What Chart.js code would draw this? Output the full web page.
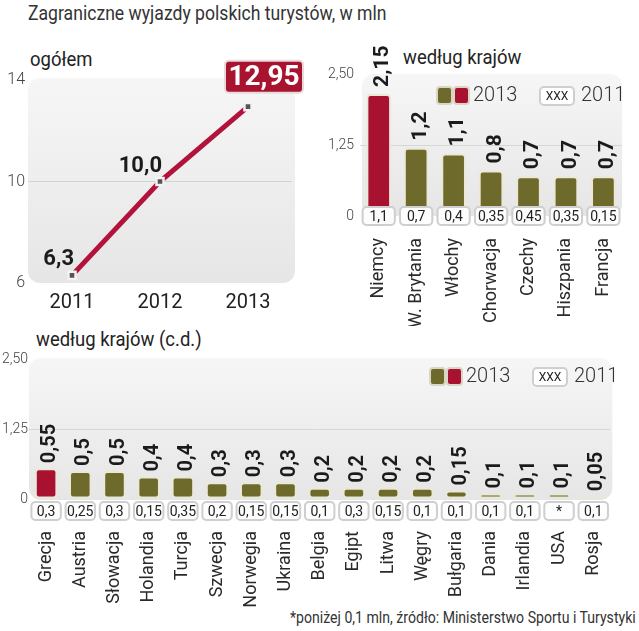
<!DOCTYPE html>
<html lang="pl">
<head>
  <meta charset="UTF-8">
  <title>Zagraniczne wyjazdy polskich turystów</title>
  <script src="https://cdn.jsdelivr.net/npm/chart.js@4"></script>
  <style>
    html, body { margin: 0; padding: 0; background: #fff; }
    body { width: 639px; height: 631px; position: relative; overflow: hidden;
           font-family: Roboto, sans-serif; color: #333; }
    canvas { position: absolute; left: 0; top: 0; }
    .txt { position: absolute; line-height: 1; white-space: nowrap; transform: scaleX(0.88); transform-origin: left top; }
    .title { left: 28px; top: 3px; font-size: 20px; color: #333; }
    .panel { font-size: 21px; color: #222; }
    .note { left: 290px; top: 610px; font-size: 16px; color: #333; }
  </style>
</head>
<body>
  <div class="txt title">Zagraniczne wyjazdy polskich turystów, w mln</div>
  <div class="txt panel" style="left:30px; top:49px;">ogółem</div>
  <div class="txt panel" style="left:403px; top:47px;">według krajów</div>
  <div class="txt panel" style="left:36px; top:329px;">według krajów (c.d.)</div>
  <div class="txt note">*poniżej 0,1 mln, źródło: Ministerstwo Sportu i Turystyki</div>

  <canvas id="lineChart" width="639" height="631"></canvas>
  <canvas id="topChart" width="639" height="631"></canvas>
  <canvas id="restChart" width="639" height="631"></canvas>

  <script>
    // ogółem
    const years = ['2011', '2012', '2013'];
    const totals = [6.3, 10.0, 12.95];
    const totalTicks = [6, 10, 14];

    // według krajów
    const topCountries = ['Niemcy', 'W. Brytania', 'Włochy', 'Chorwacja', 'Czechy', 'Hiszpania', 'Francja'];
    const top2013 = [2.15, 1.2, 1.1, 0.8, 0.7, 0.7, 0.7];
    const top2011 = [1.1, 0.7, 0.4, 0.35, 0.45, 0.35, 0.15];

    // według krajów (c.d.)
    const restCountries = ['Grecja', 'Austria', 'Słowacja', 'Holandia', 'Turcja', 'Szwecja', 'Norwegia', 'Ukraina',
      'Belgia', 'Egipt', 'Litwa', 'Węgry', 'Bułgaria', 'Dania', 'Irlandia', 'USA', 'Rosja'];
    const rest2013 = [0.55, 0.5, 0.5, 0.4, 0.4, 0.3, 0.3, 0.3, 0.2, 0.2, 0.2, 0.2, 0.15, 0.1, 0.1, 0.1, 0.05];
    const rest2011 = [0.3, 0.25, 0.3, 0.15, 0.35, 0.2, 0.15, 0.15, 0.1, 0.3, 0.15, 0.1, 0.1, 0.1, 0.1, null, 0.1];

    const countryTicks = [0, 1.25, 2.5];

    const FONT = 'Roboto';
    const OLIVE = '#6d6a2b';
    const RED = '#a8112f';
    const LINE_RED = '#b3123b';

    const fmt = v => v == null ? '*' : String(v).replace('.', ',');
    const fmtOne = v => Number.isInteger(v) ? v.toFixed(1).replace('.', ',') : fmt(v);
    const fmtTick = v => v === 0 ? '0' : v.toFixed(2).replace('.', ',');

    function roundRect(ctx, x, y, w, h, r) {
      ctx.beginPath();
      ctx.moveTo(x + r, y);
      ctx.arcTo(x + w, y, x + w, y + h, r);
      ctx.arcTo(x + w, y + h, x, y + h, r);
      ctx.arcTo(x, y + h, x, y, r);
      ctx.arcTo(x, y, x + w, y, r);
      ctx.closePath();
    }

    // szare tło paneli
    function panelBg(ext) {
      return {
        id: 'panelBg',
        beforeDraw(chart) {
          const a = chart.chartArea, ctx = chart.ctx;
          const x1 = a.left + ext.l, x2 = Math.min(a.right + ext.r, 636);
          const y1 = a.top + ext.t, y2 = a.bottom + ext.b;
          const g = ctx.createLinearGradient(0, y1, 0, y2);
          g.addColorStop(0, '#f6f6f6');
          g.addColorStop(1, '#e6e6e6');
          ctx.save();
          roundRect(ctx, x1, y1, x2 - x1, y2 - y1, 12);
          ctx.fillStyle = g;
          ctx.fill();
          ctx.restore();
        }
      };
    }

    // etykiety wartości, ramki 2011 i legenda
    function barExtras(values2011, o) {
      return {
        id: 'barExtras',
        afterDatasetsDraw(chart) {
          const ctx = chart.ctx;
          const meta = chart.getDatasetMeta(0);
          const data = chart.data.datasets[0].data;
          const y0 = chart.scales.y.getPixelForValue(0);
          const step = meta.data.length > 1 ? meta.data[1].x - meta.data[0].x : 40;
          const bw = step * 0.86, bh = 18;

          meta.data.forEach((bar, i) => {
            // wartość 2013
            ctx.save();
            ctx.translate(bar.x, bar.y - o.gap);
            ctx.rotate(-Math.PI / 2);
            ctx.font = 'bold ' + o.valSize + 'px ' + FONT;
            ctx.fillStyle = '#1b1b1b';
            ctx.textAlign = 'left';
            ctx.textBaseline = 'alphabetic';
            ctx.fillText(fmt(data[i]), 0, o.valSize * 0.36 + 2);
            ctx.restore();

            // ramka 2011
            const by = y0 + o.boxShift - bh / 2;
            ctx.save();
            ctx.shadowColor = 'rgba(0,0,0,0.12)';
            ctx.shadowBlur = 2;
            roundRect(ctx, bar.x - bw / 2, by, bw, bh, 4);
            ctx.fillStyle = '#fdfdfd';
            ctx.fill();
            ctx.shadowColor = 'transparent';
            ctx.lineWidth = 2;
            ctx.strokeStyle = '#cfcfcf';
            ctx.stroke();
            ctx.font = '14px ' + FONT;
            ctx.fillStyle = '#222';
            ctx.textAlign = 'center';
            ctx.textBaseline = 'middle';
            ctx.fillText(fmt(values2011[i]), bar.x, by + bh / 2 + 1);
            ctx.restore();
          });

          // legenda
          const a = chart.chartArea;
          const lx = o.legendX, ly = a.top + o.legendDy;
          ctx.save();
          ctx.lineWidth = 2;
          ctx.strokeStyle = '#d9d6c4';
          [OLIVE, RED].forEach((c, k) => {
            roundRect(ctx, lx + k * 17, ly, 15, 17, 3);
            ctx.fillStyle = c;
            ctx.fill();
            ctx.stroke();
          });
          ctx.font = '300 20px ' + FONT;
          ctx.fillStyle = '#333';
          ctx.textAlign = 'left';
          ctx.textBaseline = 'middle';
          ctx.fillText('2013', lx + 36, ly + 9);
          const xb = lx + 103;
          roundRect(ctx, xb, ly, 34, 18, 4);
          ctx.fillStyle = '#fff';
          ctx.fill();
          ctx.strokeStyle = '#cfcfcf';
          ctx.stroke();
          ctx.font = '12px ' + FONT;
          ctx.fillStyle = '#222';
          ctx.textAlign = 'center';
          ctx.fillText('XXX', xb + 17, ly + 9.5);
          ctx.font = '300 20px ' + FONT;
          ctx.fillStyle = '#333';
          ctx.textAlign = 'left';
          ctx.fillText('2011', xb + 41, ly + 9);
          ctx.restore();
        }
      };
    }

    // etykiety na wykresie liniowym
    const lineLabels = {
      id: 'lineLabels',
      afterDatasetsDraw(chart) {
        const ctx = chart.ctx;
        const meta = chart.getDatasetMeta(0);
        const data = chart.data.datasets[0].data;
        const last = meta.data.length - 1;
        meta.data.forEach((p, i) => {
          ctx.save();
          if (i < last) {
            ctx.font = 'bold 22px ' + FONT;
            ctx.fillStyle = '#1b1b1b';
            ctx.textAlign = 'right';
            ctx.textBaseline = 'alphabetic';
            ctx.fillText(fmtOne(data[i]), p.x + 2, p.y - 10);
          } else {
            const w = 78, h = 32;
            const bx = p.x + 16 - w / 2, by = p.y - 14 - h;
            roundRect(ctx, bx, by, w, h, 4);
            ctx.fillStyle = '#a8142f';
            ctx.fill();
            ctx.lineWidth = 2;
            ctx.strokeStyle = '#e9d9dc';
            ctx.stroke();
            ctx.font = 'bold 28px ' + FONT;
            ctx.fillStyle = '#fff';
            ctx.textAlign = 'center';
            ctx.textBaseline = 'middle';
            ctx.fillText(fmtOne(data[i]), bx + w / 2, by + h / 2 + 1);
          }
          ctx.restore();
        });
      }
    };

    Chart.defaults.animation = false;
    Chart.defaults.responsive = false;
    Chart.defaults.font.family = FONT;
    Chart.defaults.plugins.legend.display = false;
    Chart.defaults.plugins.tooltip.enabled = false;

    // ogółem
    new Chart(document.getElementById('lineChart'), {
      type: 'line',
      data: {
        labels: years,
        datasets: [{
          data: totals,
          borderColor: LINE_RED,
          borderWidth: 5,
          tension: 0,
          pointStyle: 'rect',
          pointRadius: 5,
          pointBackgroundColor: '#555',
          pointBorderColor: '#f2f2f2',
          pointBorderWidth: 2.5
        }]
      },
      options: {
        layout: { padding: { left: 0, right: 347, top: 80, bottom: 318 } },
        scales: {
          x: {
            offset: true,
            afterFit: s => { s.height = 30; },
            grid: { display: false },
            border: { display: false },
            ticks: { padding: 0, color: '#222', font: { size: 20 } }
          },
          y: {
            min: totalTicks[0],
            max: totalTicks[totalTicks.length - 1],
            afterFit: s => { s.width = 28; },
            afterBuildTicks: s => { s.ticks = totalTicks.map(v => ({ value: v })); },
            grid: {
              drawTicks: false,
              color: c => (c.tick.value === totalTicks[1] ? '#d2d2d2' : 'transparent')
            },
            border: { display: false },
            ticks: { padding: 3, color: '#444', font: { size: 16, weight: '300' } }
          }
        }
      },
      plugins: [panelBg({ l: 0, r: 3, t: -2, b: 0 }), lineLabels]
    });

    function barOptions(pad, yWidth, xHeight, tickPad, tickSize, yTickPad) {
      return {
        layout: { padding: pad },
        scales: {
          x: {
            afterFit: s => { s.height = xHeight; },
            grid: { display: false },
            border: { display: false },
            ticks: {
              autoSkip: false, minRotation: 90, maxRotation: 90, padding: tickPad,
              color: '#2a2a2a', font: { size: tickSize }
            }
          },
          y: {
            min: 0,
            max: countryTicks[countryTicks.length - 1],
            afterFit: s => { s.width = yWidth; },
            afterBuildTicks: s => { s.ticks = countryTicks.map(v => ({ value: v })); },
            grid: {
              drawTicks: false,
              color: c => (c.tick.value === countryTicks[1] ? '#d6d6d6' : 'transparent')
            },
            border: { display: false },
            ticks: {
              padding: yTickPad, color: '#444', font: { size: 14, weight: '300' },
              callback: v => fmtTick(v)
            }
          }
        }
      };
    }

    function barDataset(values) {
      return {
        data: values,
        backgroundColor: values.map((v, i) => (i === 0 ? RED : OLIVE)),
        borderColor: '#ebe8d6',
        borderWidth: 2,
        borderRadius: 4,
        borderSkipped: false,
        barPercentage: 0.66,
        categoryPercentage: 1
      };
    }

    // według krajów
    new Chart(document.getElementById('topChart'), {
      type: 'bar',
      data: { labels: topCountries, datasets: [barDataset(top2013)] },
      options: barOptions({ left: 320, right: 0, top: 74, bottom: 305 }, 40, 110, 14, 18, 6),
      plugins: [
        panelBg({ l: 2, r: 0, t: 0, b: 0 }),
        barExtras(top2011, { gap: 7, valSize: 21, boxShift: 0, legendX: 437, legendDy: 13 })
      ]
    });

    // według krajów (c.d.)
    new Chart(document.getElementById('restChart'), {
      type: 'bar',
      data: { labels: restCountries, datasets: [barDataset(rest2013)] },
      options: barOptions({ left: 0, right: 5, top: 359, bottom: 22 }, 29, 110, 24, 18, 1),
      plugins: [
        panelBg({ l: 0, r: 2, t: -1, b: 1 }),
        barExtras(rest2011, { gap: 5, valSize: 20, boxShift: 12, legendX: 430, legendDy: 9 })
      ]
    });
  </script>
</body>
</html>
